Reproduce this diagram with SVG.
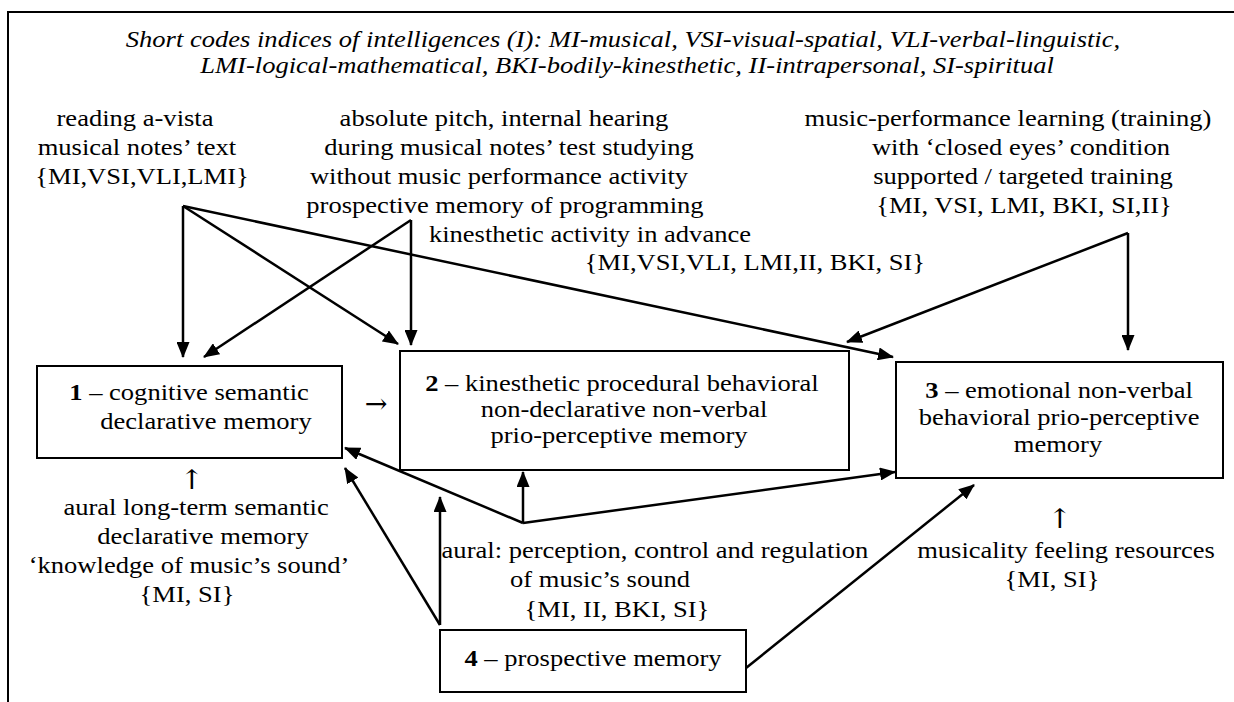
<svg xmlns="http://www.w3.org/2000/svg" width="1234" height="702" viewBox="0 0 1234 702">
<defs>
<style>
.t{font-family:"Liberation Serif","Times New Roman",serif;font-size:23.5px;fill:#000;text-anchor:middle}
.ti{font-style:italic}
.b{font-weight:bold}
.ar{font-family:"DejaVu Serif","DejaVu Sans",serif;font-size:27px}
.box{fill:#fff;stroke:#000;stroke-width:2}
.c{fill:none;stroke:#000;stroke-width:2.5;marker-end:url(#ah)}
.frame{fill:none;stroke:#000;stroke-width:2}
</style>
<marker id="ah" markerWidth="16" markerHeight="13" refX="15" refY="6.5" orient="auto" markerUnits="userSpaceOnUse">
<path d="M0,0 L16,6.5 L0,13 z" fill="#000"/>
</marker>
</defs>
<rect width="1234" height="702" fill="#fff"/>
<path class="frame" d="M8,702 L8,12 L1234,12"/>

<g id="legend">
<text class="t ti" transform="scale(1.13,1)"><tspan x="551.3" y="47">Short codes indices of intelligences (I): MI-musical, VSI-visual-spatial, VLI-verbal-linguistic,</tspan><tspan x="554.9" y="73">LMI-logical-mathematical, BKI-bodily-kinesthetic, II-intrapersonal, SI-spiritual</tspan></text>
</g>

<g id="src-reading">
<text class="t" transform="scale(1.13,1)"><tspan x="119.5" y="126">reading a-vista</tspan><tspan x="121.2" y="155">musical notes’ text</tspan><tspan x="125.7" y="184">{MI,VSI,VLI,LMI}</tspan></text>
</g>

<g id="src-pitch">
<text class="t" transform="scale(1.13,1)"><tspan x="446" y="126">absolute pitch, internal hearing</tspan><tspan x="450.4" y="155">during musical notes’ test studying</tspan><tspan x="441.6" y="184">without music performance activity</tspan><tspan x="446.9" y="213">prospective memory of programming</tspan><tspan x="522.1" y="242">kinesthetic activity in advance</tspan><tspan x="668.1" y="270">{MI,VSI,VLI, LMI,II, BKI, SI}</tspan></text>
</g>

<g id="src-training">
<text class="t" transform="scale(1.13,1)"><tspan x="892" y="126">music-performance learning (training)</tspan><tspan x="903.5" y="155">with ‘closed eyes’ condition</tspan><tspan x="905.3" y="184">supported / targeted training</tspan><tspan x="906.2" y="213">{MI, VSI, LMI, BKI, SI,II}</tspan></text>
</g>

<g id="node1">
<rect class="box" x="37" y="366" width="305" height="92"/>
<text class="t" transform="scale(1.13,1)"><tspan x="167.3" y="400"><tspan class="b">1</tspan> – cognitive semantic</tspan><tspan x="182.3" y="429">declarative memory</tspan></text>
</g>

<g id="arrow-1-2">
<text class="t ar" x="376" y="413">→</text>
</g>

<g id="node2">
<rect class="box" x="400" y="351" width="449" height="119"/>
<text class="t" transform="scale(1.13,1)"><tspan x="550.4" y="391"><tspan class="b">2</tspan> – kinesthetic procedural behavioral</tspan><tspan x="552.2" y="417">non-declarative non-verbal</tspan><tspan x="547.8" y="443">prio-perceptive memory</tspan></text>
</g>

<g id="node3">
<rect class="box" x="896" y="362" width="327" height="116"/>
<text class="t" transform="scale(1.13,1)"><tspan x="937.2" y="398"><tspan class="b">3</tspan> – emotional non-verbal</tspan><tspan x="937.2" y="425">behavioral prio-perceptive</tspan><tspan x="936.3" y="452">memory</tspan></text>
</g>

<g id="node4">
<rect class="box" x="440" y="630" width="306" height="62"/>
<text class="t" transform="scale(1.13,1)"><tspan x="524.8" y="666"><tspan class="b">4</tspan> – prospective memory</tspan></text>
</g>

<g id="src-aural-longterm">
<text class="t" transform="scale(1.13,1)"><tspan class="ar" x="169.9" y="489">↑</tspan><tspan x="173.5" y="515">aural long-term semantic</tspan><tspan x="179.6" y="544">declarative memory</tspan><tspan x="167.3" y="573">‘knowledge of music’s sound’</tspan><tspan x="165.5" y="602">{MI, SI}</tspan></text>
</g>

<g id="src-aural-perception">
<text class="t" transform="scale(1.13,1)"><tspan x="579.6" y="558">aural: perception, control and regulation</tspan><tspan x="531" y="587">of music’s sound</tspan><tspan x="546" y="617">{MI, II, BKI, SI}</tspan></text>
</g>

<g id="src-musicality">
<text class="t" transform="scale(1.13,1)"><tspan class="ar" x="938.1" y="528">↑</tspan><tspan x="943.4" y="558">musicality feeling resources</tspan><tspan x="931" y="587">{MI, SI}</tspan></text>
</g>

<g id="connectors">
<path class="c" d="M183,206 L183,357"/>
<path class="c" d="M183,206 L398,344"/>
<path class="c" d="M183,206 L893,357"/>
<path class="c" d="M411,220 L411,345"/>
<path class="c" d="M411,220 L204,357"/>
<path class="c" d="M1128,233 L1128,350"/>
<path class="c" d="M1128,233 L847,342"/>
<path class="c" d="M440,625 L440,497"/>
<path class="c" d="M440,625 L345,468"/>
<path class="c" d="M523,523 L523,472"/>
<path class="c" d="M523,523 L345,448"/>
<path class="c" d="M523,523 L895,472"/>
<path class="c" d="M746,668 L974,485"/>
</g>
</svg>
